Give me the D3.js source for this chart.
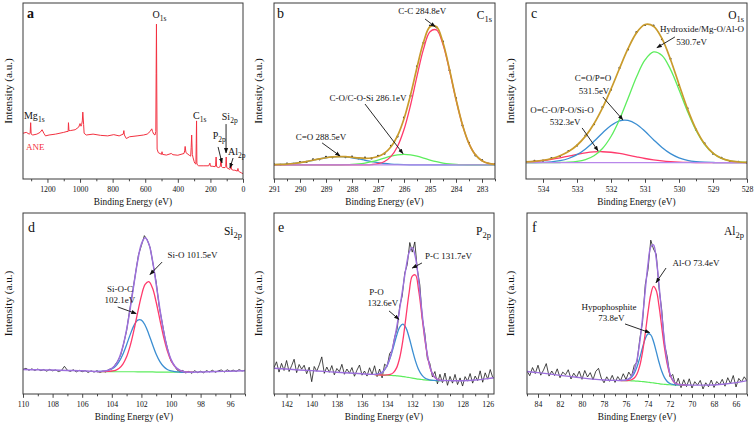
<!DOCTYPE html>
<html><head><meta charset="utf-8">
<script src="https://cdn.jsdelivr.net/npm/d3@7"></script>
<style>
html,body{margin:0;padding:0;background:#fff;}
svg{display:block;font-family:"Liberation Serif","Times New Roman",serif;}
</style></head><body>
<svg id="chart" width="754" height="425"></svg>
<script>
// ---------------- DATA ----------------
// (a) survey spectrum: binding energy (eV) and relative intensity
const surveyBE  = [1350,1330,1312,1306,1303,1300,1290,1265,1245,1233,1222,1212,1190,1150,1100,1080,1073,1071,1068,1060,1030,1008,1000,994,990,986,983,978,975,962,920,874,830,793,760,735,731,728,716,696,650,610,588,570,560,555,548,540,535,533,531,529,527,520,500,497,494,470,440,430,400,362,358,355,350,330,321,318,315,311,306,300,296,289,287,285,283,280,272,240,211,203,200,185,171,168,165,162,151,140,135,132,125,110,106,103,100,92,80,76,74,71,60,50,35,31,28,20,10,0];
const surveyInt = [26,26.5,25.5,26,32,25.5,25,25.5,26.5,28,26,24.5,25,25.5,26.5,27,27,32,27.5,27.5,28,29.5,31.5,30,31,33,38,31,26,25,25.5,24.8,24.5,25.2,24.5,25.5,27.5,25,23,24,24.5,25,25.5,27,28.5,27,25.5,25,27,60,88,50,17,15,14,15.5,14,13.6,14.5,13.8,13.5,14.5,16,18.5,15,13.5,13,18,25,14,12,10,9,8.5,20,33,9,8,7.5,7.5,7.5,9,7.3,7.2,7,8,12.5,7,6.5,7,11,7,6.5,6.5,7,12.5,6.5,6,5.5,6,9,5.5,5,5,4.5,6,4.5,4,3.5,3];

// (b) C1s
const c1sBE   = [291,290.75,290.5,290.25,290,289.75,289.5,289.25,289,288.75,288.5,288.25,288,287.75,287.5,287.25,287,286.75,286.5,286.25,286,285.75,285.5,285.25,285,284.75,284.5,284.25,284,283.75,283.5,283.25,283,282.75,282.5];
const c1sRaw  = [8.3,8.1,8.7,8.6,9.6,9.7,11.1,11.2,12.6,12.3,13.2,12.4,12.7,11.7,12.1,11.7,13.1,14.4,18.8,24.1,34.9,47.2,64.0,77.3,87.1,86.2,78.0,61.8,45.9,30.4,20.6,13.4,10.7,8.6,8.4];
const c1sCC   = [8,8,8,8,8,8,8,8,8,8,8,8,8,8,8.05,8.22,8.7,9.96,12.84,18.5,28.1,41.9,58.4,73.8,83.7,84.7,76.4,61.7,45.1,30.6,20.1,13.7,10.4,8.87,8.28];
const c1sCO   = [8,8,8,8,8,8,8,8,8,8,8.05,8.12,8.28,8.57,9.07,9.81,10.78,11.9,12.95,13.72,14,13.72,12.95,11.9,10.78,9.81,9.07,8.57,8.28,8.12,8.05,8,8,8,8];
const c1sCdO  = [8.13,8.26,8.48,8.81,9.3,9.92,10.65,11.41,12.07,12.54,12.7,12.54,12.07,11.41,10.65,9.92,9.3,8.81,8.48,8.26,8.13,8.06,8.03,8,8,8,8,8,8,8,8,8,8,8,8];
const c1sBase = [8,8,8,8,8,8,8,8,8,8,8,8,8,8,8,8,8,8,8,8,8,8,8,8,8,8,8,8,8,8,8,8,8,8,8];
const c1sEnv  = [8.13,8.26,8.48,8.81,9.3,9.92,10.65,11.41,12.07,12.54,12.75,12.66,12.35,11.98,11.77,11.95,12.78,14.67,18.27,24.48,34.23,47.68,63.38,77.7,86.48,86.51,77.47,62.27,45.38,30.72,20.15,13.7,10.4,8.87,8.28];

// (c) O1s
const o1sBE   = [534.5,534.25,534,533.75,533.5,533.25,533,532.75,532.5,532.25,532,531.75,531.5,531.25,531,530.75,530.5,530.25,530,529.75,529.5,529.25,529,528.75,528.5,528.25,528];
const o1sRaw  = [9.8,10.3,10.4,11.9,13.0,15.9,19.0,24.6,31.1,40.8,50.7,63.1,73.6,83.4,87.5,87.1,79.4,68.3,53.4,40.2,28.0,20.3,14.4,12.0,10.1,9.8,9.3];
const o1sHyd  = [9.3,9.3,9.3,9.32,9.38,9.54,9.98,11.03,13.24,17.36,24.13,33.83,45.72,57.94,67.63,72.17,70.18,62.28,50.72,38.41,27.68,19.72,14.61,11.73,10.3,9.67,9.42];
const o1sCdO  = [9.32,9.36,9.47,9.76,10.4,11.65,13.82,17.1,21.4,26.16,30.4,33.04,33.29,31.09,27.08,22.34,17.89,14.39,12.01,10.6,9.86,9.52,9.38,9.32,9.3,9.3,9.3];
const o1sOCO  = [9.69,10.0,10.48,11.16,12.02,13.0,13.98,14.82,15.36,15.49,15.19,14.51,13.6,12.6,11.65,10.87,10.27,9.86,9.6,9.45,9.37,9.33,9.3,9.3,9.3,9.3,9.3];
const o1sBase = [9.3,9.3,9.3,9.3,9.3,9.3,9.3,9.3,9.3,9.3,9.3,9.3,9.3,9.3,9.3,9.3,9.3,9.3,9.3,9.3,9.3,9.3,9.3,9.3,9.3,9.3,9.3];
const o1sEnv  = [9.71,10.06,10.65,11.64,13.2,15.59,19.18,24.35,31.4,40.41,51.12,62.78,74.01,83.03,87.76,86.78,79.74,67.93,53.73,39.86,28.31,19.97,14.69,11.75,10.3,9.67,9.42];

// (d) Si2p
const si2pRawBE = [110,109.8,109.6,109.4,109.2,109,108.8,108.6,108.4,108.2,108,107.8,107.6,107.4,107.2,107,106.8,106.6,106.4,106.2,106,105.8,105.6,105.4,105.2,105,104.8,104.6,104.4,104.2,104,103.8,103.6,103.4,103.2,103,102.8,102.6,102.4,102.2,102,101.8,101.6,101.4,101.2,101,100.8,100.6,100.4,100.2,100,99.8,99.6,99.4,99.2,99,98.8,98.6,98.4,98.2,98,97.8,97.6,97.4,97.2,97,96.8,96.6,96.4,96.2,96,95.8,95.6,95.4,95.2,95];
const si2pRaw   = [13.6,14.2,13.1,13.9,13.0,13.8,12.9,13.5,12.6,13.6,12.8,13.3,12.4,13.0,15.3,13.1,12.5,13.4,12.2,13.1,12.3,12.9,11.9,12.8,12.1,12.9,11.8,12.7,12.1,13.6,14.0,15.9,18.2,21.5,27.8,35.0,45.9,56.1,66.5,76.8,82.0,87.5,85.1,80.6,71.2,61.8,48.4,39.7,30.6,23.9,18.2,16.1,13.4,12.3,13.0,11.6,12.5,11.4,12.9,11.8,12.6,11.7,12.9,12.2,13.1,12.0,12.8,13.3,12.1,13.4,12.5,13.2,12.4,13.5,12.7,13.1];
const si2pFitBE = [105,104.75,104.5,104.25,104,103.75,103.5,103.25,103,102.75,102.5,102.25,102,101.75,101.5,101.25,101,100.75,100.5,100.25,100,99.75,99.5,99.25,99,98.75,98.5];
const si2pBase  = [12.4,12.4,12.4,12.4,12.4,12.3,12.3,12.3,12.3,12.3,12.3,12.2,12.2,12.2,12.2,12.2,12.1,12.1,12.1,12.1,12.1,12.1,12.1,12.0,12.0,12.0,12.0];
const si2pSiO   = [12.4,12.41,12.43,12.5,12.7,13.1,14.23,16.52,20.57,26.88,35.4,45.08,54.25,60.52,62.1,58.5,50.7,41.0,31.57,23.87,18.5,15.23,13.47,12.54,12.19,12.06,12.02];
const si2pSiOC  = [12.42,12.48,12.63,13.0,13.81,15.28,17.98,22.02,27.25,32.95,37.93,40.78,40.85,37.98,33.07,27.38,22.01,17.92,15.17,13.56,12.72,12.34,12.18,12.03,12.01,12.0,12.0];
const si2pEnvBE = [110,109,108,107,106,105.5,105,104.75,104.5,104.25,104,103.75,103.5,103.25,103,102.75,102.5,102.25,102,101.75,101.5,101.25,101,100.75,100.5,100.25,100,99.75,99.5,99.25,99,98.75,98.5,98,97,96,95];
const si2pEnv   = [13.5,13.4,13.2,13.0,12.8,12.6,12.42,12.49,12.66,13.1,14.11,16.08,19.91,26.24,35.52,47.53,61.03,73.66,82.9,86.3,82.97,73.68,60.61,46.82,34.64,25.33,19.12,15.47,13.55,12.57,12.2,12.06,12.02,12.2,12.4,12.6,12.8];

// (e) P2p
const p2pRawBE = [143,142.8,142.6,142.4,142.2,142,141.8,141.6,141.4,141.2,141,140.8,140.6,140.4,140.2,140,139.8,139.6,139.4,139.2,139,138.8,138.6,138.4,138.2,138,137.8,137.6,137.4,137.2,137,136.8,136.6,136.4,136.2,136,135.8,135.6,135.4,135.2,135,134.8,134.6,134.4,134.2,134,133.8,133.6,133.4,133.2,133,132.8,132.6,132.4,132.2,132,131.8,131.6,131.4,131.2,131,130.8,130.6,130.4,130.2,130,129.8,129.6,129.4,129.2,129,128.8,128.6,128.4,128.2,128,127.8,127.6,127.4,127.2,127,126.8,126.6,126.4,126.2,126,125.8,125.6];
const p2pRaw   = [14.5,17.8,12.1,16.9,13.0,18.5,12.4,15.6,19.2,11.8,16.3,13.7,15.9,11.2,14.8,6.8,15.2,12.6,16.1,20.5,11.4,14.9,12.0,15.7,10.6,14.1,12.3,16.4,10.9,13.8,11.5,14.6,9.8,13.2,16.0,10.4,12.7,9.9,14.5,10.8,15.6,9.6,13.8,8.9,16.5,15.2,22.4,24.1,31.5,36.0,48.5,54.2,66.8,71.5,83.7,78.4,84.0,68.9,60.2,41.5,33.4,19.6,16.8,9.5,12.4,5.6,10.9,6.3,11.6,4.8,9.7,6.0,10.8,5.2,8.9,4.4,9.6,7.1,11.3,6.0,9.9,7.4,12.8,6.5,11.7,8.2,13.5,9.1];
const p2pFitBE = [135,134.75,134.5,134.25,134,133.75,133.5,133.25,133,132.75,132.5,132.25,132,131.75,131.5,131.25,131,130.75,130.5,130.25,130,129.75,129.5];
const p2pBase  = [10.7,10.6,10.5,10.45,10.4,10.3,10.2,10.05,9.9,9.65,9.4,9.1,8.8,8.5,8.2,8.0,7.8,7.65,7.5,7.45,7.4,7.4,7.4];
const p2pPC    = [10.7,10.6,10.51,10.48,10.53,10.8,11.8,14.42,20.04,29.58,42.62,56.07,65.1,65.74,57.55,44.08,30.17,19.41,12.74,9.43,8.04,7.57,7.44];
const p2pPO    = [10.82,10.98,11.55,12.98,15.74,20.12,25.97,32.17,37.0,38.65,36.5,31.22,24.57,18.32,13.54,10.53,8.85,8.03,7.62,7.48,7.41,7.4,7.4];
const p2pEnvBE = [143,142,141,140,139,138,137,136,135.5,135,134.75,134.5,134.25,134,133.75,133.5,133.25,133,132.75,132.5,132.25,132,131.75,131.5,131.25,131,130.75,130.5,130.25,130,129.75,129.5,129,128,127,126,125.5];
const p2pEnv   = [14.2,13.8,13.3,12.9,12.5,12.0,11.6,11.2,10.95,10.82,10.98,11.56,13.01,15.87,20.62,27.57,36.54,47.14,58.58,69.72,78.19,80.87,75.56,62.89,46.61,31.22,19.79,12.86,9.46,8.05,7.57,7.44,7.4,7.3,7.7,8.5,9.0];

// (f) Al2p
const al2pRawBE = [85,84.75,84.5,84.25,84,83.75,83.5,83.25,83,82.75,82.5,82.25,82,81.75,81.5,81.25,81,80.75,80.5,80.25,80,79.75,79.5,79.25,79,78.75,78.5,78.25,78,77.75,77.5,77.25,77,76.75,76.5,76.25,76,75.75,75.5,75.25,75,74.75,74.5,74.25,74,73.75,73.5,73.25,73,72.75,72.5,72.25,72,71.75,71.5,71.25,71,70.75,70.5,70.25,70,69.75,69.5,69.25,69,68.75,68.5,68.25,68,67.75,67.5,67.25,67,66.75,66.5,66.25,66,65.75,65.5,65.25,65];
const al2pRaw   = [12.8,10.1,14.6,11.3,15.9,10.4,13.2,16.8,9.9,12.7,10.2,13.9,9.0,12.1,10.6,13.4,8.3,11.5,9.2,12.6,8.1,13.0,9.4,11.8,7.9,12.5,14.2,8.8,6.2,9.5,7.0,10.3,6.4,9.6,7.3,11.2,8.0,12.1,9.7,15.8,17.6,30.2,39.5,60.4,68.7,85.0,80.1,77.2,58.6,46.4,27.3,20.5,9.4,10.8,4.6,8.7,3.5,7.9,4.1,8.4,3.3,6.8,4.9,7.5,2.8,6.2,4.0,7.7,3.6,6.9,5.2,8.1,4.3,9.0,5.8,10.2,3.9,8.6,6.7,9.5,7.2];
const al2pFitBE = [76.5,76.25,76,75.75,75.5,75.25,75,74.75,74.5,74.25,74,73.75,73.5,73.25,73,72.75,72.5,72.25,72,71.75,71.5,71.25,71,70.75,70.5];
const al2pBase  = [7.45,7.4,7.4,7.35,7.3,7.2,7.1,7.0,6.85,6.7,6.5,6.3,6.1,5.9,5.7,5.5,5.35,5.2,5.1,5.05,5.0,5.0,5.0,5.0,5.0];
const al2pAlO   = [7.45,7.41,7.45,7.52,7.86,8.8,11.07,15.58,23.05,33.45,45.05,54.83,59.46,57.13,48.67,36.97,25.48,16.45,10.59,7.39,5.87,5.28,5.08,5.02,5.0];
const al2pHypo  = [7.48,7.5,7.7,8.18,9.29,11.42,14.98,19.94,25.56,30.53,33.23,32.68,29.04,23.45,17.53,12.52,9.02,6.89,5.78,5.29,5.08,5.02,5.0,5.0,5.0];
const al2pEnvBE = [85,84,83,82,81,80,79,78,77,76.5,76.25,76,75.75,75.5,75.25,75,74.75,74.5,74.25,74,73.75,73.5,73.25,73,72.75,72.5,72.25,72,71.75,71.5,71.25,71,70.75,70.5,70,69,68,67,66,65];
const al2pEnv   = [12.4,11.8,11.1,10.3,9.6,8.9,8.2,7.7,7.5,7.48,7.51,7.75,8.35,9.85,13.02,18.95,28.52,41.76,57.28,71.78,81.21,82.4,74.68,60.5,43.99,29.15,18.14,11.27,7.63,5.95,5.3,5.08,5.02,5.0,4.9,4.9,5.0,5.5,6.3,7.4];

// tick labels
const ticksA = [1200,1000,800,600,400,200,0];
const ticksB = [291,290,289,288,287,286,285,284,283];
const ticksC = [534,533,532,531,530,529,528];
const ticksD = [110,108,106,104,102,100,98,96];
const ticksE = [142,140,138,136,134,132,130,128,126];
const ticksF = [84,82,80,78,76,74,72,70,68,66];

// ---------------- DRAWING ----------------
const FONT = '"Liberation Serif","Times New Roman",serif';
const COL = {gold:"#c99b2c", red:"#ff3a6c", green:"#5ded5d", blue:"#3b8ed2", lav:"#b887ea", purp:"#9d70dd", raw:"#1a1a1a", survey:"#f33140"};
const svg = d3.select("#chart");
const defs = svg.append("defs");
defs.append("marker").attr("id","arr").attr("viewBox","0 0 10 10").attr("refX",9).attr("refY",5)
  .attr("markerWidth",6).attr("markerHeight",6).attr("orient","auto")
  .append("path").attr("d","M0,1.2 L10,5 L0,8.8 Z").attr("fill","#111");

function panel(o){
  const g = svg.append("g");
  const x = d3.scaleLinear().domain(o.dom).range([o.l,o.r]);
  const y = d3.scaleLinear().domain([0,100]).range([o.b,o.t]);
  defs.append("clipPath").attr("id","cp"+o.key).append("rect")
    .attr("x",o.l).attr("y",o.t).attr("width",o.r-o.l).attr("height",o.b-o.t);
  const mn = g.append("g").attr("transform",`translate(0,${o.b})`)
    .call(d3.axisBottom(x).tickValues(o.minor).tickSize(2.3).tickFormat(""));
  const mj = g.append("g").attr("transform",`translate(0,${o.b})`)
    .call(d3.axisBottom(x).tickValues(o.ticks).tickSize(3.8).tickPadding(3.6).tickFormat(d3.format("d")));
  [mn,mj].forEach(a=>{a.select(".domain").remove();a.selectAll("line").attr("stroke","#333").attr("stroke-width",0.9);});
  mj.selectAll("text").attr("font-family",FONT).attr("font-size",7.8).attr("fill","#111");
  const pg = g.append("g").attr("clip-path",`url(#cp${o.key})`);
  g.append("rect").attr("x",o.l).attr("y",o.t).attr("width",o.r-o.l).attr("height",o.b-o.t)
    .attr("fill","none").attr("stroke","#3a3a3a").attr("stroke-width",1);
  g.append("text").attr("x",(o.l+o.r)/2).attr("y",o.b+25.5).attr("text-anchor","middle")
    .attr("font-size",9.3).attr("fill","#111").text("Binding Energy (eV)");
  g.append("text").attr("transform",`translate(${o.yt},${(o.t+o.b)/2}) rotate(-90)`)
    .attr("text-anchor","middle").attr("dy","0.35em").attr("font-size",11.2).attr("fill","#111").text("Intensity (a.u.)");
  g.append("text").attr("x",o.l+o.lx).attr("y",o.t+o.ly).attr("font-size",14)
    .attr("font-weight",o.bold?"bold":"normal").attr("fill","#111").text(o.letter);
  if(o.el){ subText(g,o.r-3,o.t+o.ely,o.el[0],o.el[1],11.5,8.5,"end"); }
  return {x,y,g,pg};
}
function subText(g,px,py,main,sub,fs,sfs,anchor){
  const t=g.append("text").attr("x",px).attr("y",py).attr("font-size",fs).attr("fill","#111").attr("text-anchor",anchor||"start");
  t.append("tspan").text(main);
  t.append("tspan").attr("font-size",sfs).attr("dy",fs*0.3).text(sub);
  return t;
}
function line(P,xs,ys,color,w,curve){
  const pts = d3.zip(xs,ys);
  const gen = d3.line().x(d=>P.x(d[0])).y(d=>P.y(d[1])).curve(curve||d3.curveLinear);
  P.pg.append("path").attr("d",gen(pts)).attr("fill","none").attr("stroke",color)
    .attr("stroke-width",w).attr("stroke-linejoin","round");
}
function dots(P,xs,ys){
  P.pg.selectAll(null).data(d3.zip(xs,ys)).join("circle")
    .attr("cx",d=>P.x(d[0])).attr("cy",d=>P.y(d[1])).attr("r",1.1).attr("fill","#333");
}
function note(P,lines,anchor){
  lines.forEach(n=>P.g.append("text").attr("x",P.x(n[1])).attr("y",P.y(n[2]))
    .attr("text-anchor",anchor||"middle").attr("font-size",9).attr("fill","#111").text(n[0]));
}
function arrow(P,a){
  P.g.append("line").attr("x1",P.x(a[0])).attr("y1",P.y(a[1])).attr("x2",P.x(a[2])).attr("y2",P.y(a[3]))
    .attr("stroke","#111").attr("stroke-width",0.9).attr("marker-end","url(#arr)");
}
const smooth = d3.curveCatmullRom.alpha(0.5);

// ---- panel a ----
const A = panel({key:"a",dom:[1350,0],l:23,r:243,t:3,b:179,ticks:ticksA,minor:d3.range(1300,0,-200),yt:8,letter:"a",lx:4,ly:15,bold:true});
line(A,surveyBE,surveyInt,COL.survey,1);
subText(A.g,A.x(555),A.y(91.5),"O","1s",10,7.5);
subText(A.g,A.x(307),A.y(34),"C","1s",10,7.5);
subText(A.g,A.x(1344),A.y(34),"Mg","1s",10,7.5);
subText(A.g,A.x(130),A.y(33.5),"Si","2p",10,7.5);
subText(A.g,A.x(186),A.y(22.7),"P","2p",10,7.5);
subText(A.g,A.x(92),A.y(13.6),"Al","2p",10,7.5);
A.g.append("text").attr("x",A.x(1331)).attr("y",A.y(16.5)).attr("font-size",9).attr("fill",COL.survey).text("ANE");
arrow(A,[104,31.2,104,14.8]); arrow(A,[153,18.2,129,9.1]); arrow(A,[61,11.9,80,6.3]);

// ---- panel b ----
const B = panel({key:"b",dom:[291,282.5],l:274,r:495,t:3,b:179,ticks:ticksB,minor:d3.range(290.5,282,-1),yt:258,letter:"b",lx:3,ly:15,el:["C","1s"],ely:16});
dots(B,c1sBE,c1sRaw);
line(B,c1sBE,c1sCdO,COL.blue,1.3,smooth);
line(B,c1sBE,c1sCO,COL.green,1.3,smooth);
line(B,c1sBE,c1sCC,COL.red,1.3,smooth);
line(B,c1sBE,c1sBase,COL.lav,1.3);
line(B,c1sBE,c1sEnv,COL.gold,1.7,smooth);
note(B,[["C-C 284.8eV",285.3,93.5],["C-O/C-O-Si 286.1eV",287.38,44.3],["C=O 288.5eV",289.19,22.2]]);
arrow(B,[285.19,90.9,284.8,86.5]); arrow(B,[287.5,42.6,286.04,14.4]); arrow(B,[289.15,20.5,288.46,13.1]);

// ---- panel c ----
const C = panel({key:"c",dom:[534.5,528],l:526,r:747,t:3,b:179,ticks:ticksC,minor:d3.range(533.5,528,-1),yt:510,letter:"c",lx:5,ly:15,el:["O","1s"],ely:16});
dots(C,o1sBE,o1sRaw);
line(C,o1sBE,o1sOCO,COL.red,1.3,smooth);
line(C,o1sBE,o1sCdO,COL.blue,1.3,smooth);
line(C,o1sBE,o1sHyd,COL.green,1.3,smooth);
line(C,o1sBE,o1sBase,COL.lav,1.3);
line(C,o1sBE,o1sEnv,COL.gold,1.7,smooth);
note(C,[["Hydroxide/Mg-O/Al-O",529.32,83.5],["530.7eV",529.63,76.1],["C=O/P=O",532.53,55.7],["531.5eV",532.5,48.3],["O=C-O/P-O/Si-O",533.44,37.5],["532.3eV",533.35,30.7]]);
arrow(C,[530.12,80.7,530.65,74.6]); arrow(C,[532.24,46.6,531.65,33.6]); arrow(C,[532.85,29,532.38,16]);

// ---- panel d ----
const D = panel({key:"d",dom:[110,95],l:23,r:245,t:213,b:394,ticks:ticksD,minor:d3.range(109,94,-2),yt:8,letter:"d",lx:5,ly:19,el:["Si","2p"],ely:22});
line(D,si2pRawBE,si2pRaw,COL.raw,0.8);
line(D,si2pFitBE,si2pBase,COL.green,1.2);
line(D,si2pFitBE,si2pSiOC,COL.blue,1.3,smooth);
line(D,si2pFitBE,si2pSiO,COL.red,1.3,smooth);
line(D,si2pEnvBE,si2pEnv,COL.purp,1.5,smooth);
note(D,[["Si-O 101.5eV",98.55,75.1],["Si-O-C",103.45,56.4],["102.1eV",103.45,50.3]]);
arrow(D,[103.6,48.1,102.35,44.4]); arrow(D,[100.6,72.9,101.42,66]);

// ---- panel e ----
const E = panel({key:"e",dom:[143,125.5],l:274,r:494,t:213,b:394,ticks:ticksE,minor:d3.range(143,126,-2),yt:258,letter:"e",lx:4,ly:19,el:["P","2p"],ely:22});
line(E,p2pRawBE,p2pRaw,COL.raw,0.8);
line(E,p2pFitBE,p2pBase,COL.green,1.2,smooth);
line(E,p2pFitBE,p2pPO,COL.blue,1.3,smooth);
line(E,p2pFitBE,p2pPC,COL.red,1.3,smooth);
line(E,p2pEnvBE,p2pEnv,COL.purp,1.4,smooth);
note(E,[["P-C 131.7eV",129.12,74.6],["P-O",134.85,54.7],["132.6eV",134.33,48.6]]);
arrow(E,[131.23,72.4,132.0,69.6]); arrow(E,[133.85,45.9,133.06,41.2]);

// ---- panel f ----
const F = panel({key:"f",dom:[85,65],l:527,r:747,t:213,b:394,ticks:ticksF,minor:d3.range(85,64,-2),yt:510,letter:"f",lx:5,ly:19,el:["Al","2p"],ely:22});
line(F,al2pRawBE,al2pRaw,COL.raw,0.8);
line(F,al2pFitBE,al2pBase,COL.green,1.2,smooth);
line(F,al2pFitBE,al2pHypo,COL.blue,1.3,smooth);
line(F,al2pFitBE,al2pAlO,COL.red,1.3,smooth);
line(F,al2pEnvBE,al2pEnv,COL.purp,1.4,smooth);
note(F,[["Al-O 73.4eV",69.64,70.7],["Hypophosphite",77.55,46.4],["73.8eV",77.32,40.3]]);
arrow(F,[72.36,69.6,73.27,61.5]); arrow(F,[76.09,38.7,73.85,33.9]);
</script>
</body></html>
